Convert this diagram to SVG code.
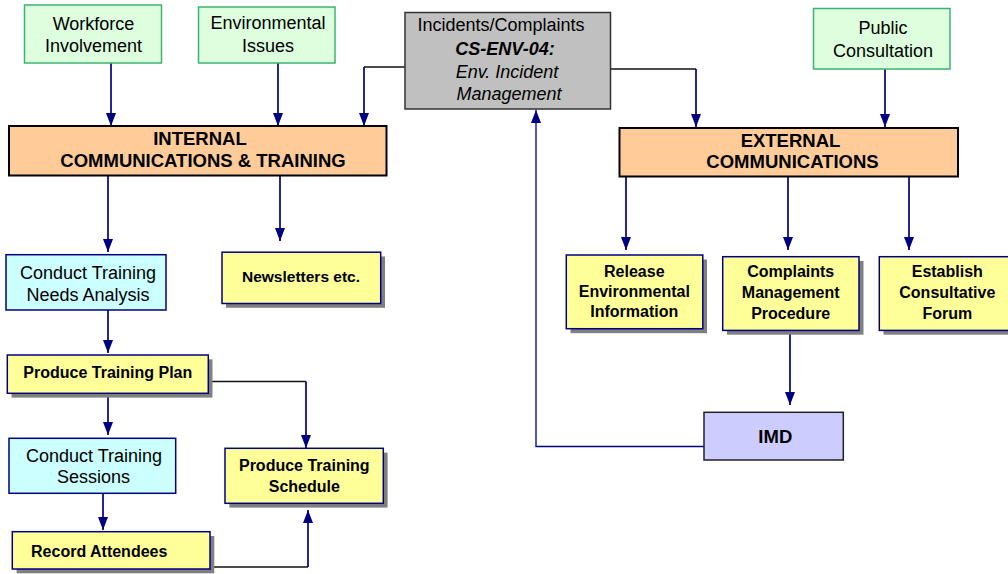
<svg xmlns="http://www.w3.org/2000/svg" width="1008" height="574" viewBox="0 0 1008 574">
<style>
text{font-family:"Liberation Sans",Arial,sans-serif;fill:#000;text-anchor:middle}
.r{font-size:18px}
.b{font-size:16px;font-weight:bold}
.bo{font-size:18.5px;font-weight:bold}
.green{fill:#ddffdd;stroke:#3cb371;stroke-width:1.5}
.cyan{fill:#ccffff;stroke:#000080;stroke-width:1.5}
.yel{fill:#ffff99;stroke:#000080;stroke-width:1.5}
.org{fill:#ffcc99;stroke:#000;stroke-width:2}
.gray{fill:#c0c0c0;stroke:#333;stroke-width:1.5}
.imd{fill:#ccccff;stroke:#222;stroke-width:1.5}
.sh{fill:#808080}
.nv{fill:none;stroke:#000080;stroke-width:1.7}
.dk{fill:none;stroke:#111;stroke-width:1.3}
</style>
<defs>
<marker id="arr" viewBox="0 0 13 10" refX="13" refY="5" markerWidth="13" markerHeight="10" orient="auto" markerUnits="userSpaceOnUse">
<path d="M0,0 L13,5 L0,10 Z" fill="#000080"/>
</marker>
</defs>

<g id="connectors">
<path class="nv" d="M111,63 V126" marker-end="url(#arr)"/>
<path class="nv" d="M278,63 V126" marker-end="url(#arr)"/>
<path class="dk" d="M405,67 H364"/>
<path class="nv" d="M364,67 V126" marker-end="url(#arr)"/>
<path class="dk" d="M611,69 H696"/>
<path class="nv" d="M696,69 V127" marker-end="url(#arr)"/>
<path class="nv" d="M885,69 V127" marker-end="url(#arr)"/>
<path class="nv" d="M108,176 V252" marker-end="url(#arr)"/>
<path class="nv" d="M280,176 V241" marker-end="url(#arr)"/>
<path class="nv" d="M626,177 V250" marker-end="url(#arr)"/>
<path class="nv" d="M788,177 V250" marker-end="url(#arr)"/>
<path class="nv" d="M909,177 V250" marker-end="url(#arr)"/>
<path class="nv" d="M108,310 V353" marker-end="url(#arr)"/>
<path class="nv" d="M108,393 V435" marker-end="url(#arr)"/>
<path class="dk" d="M208,381.5 H306"/>
<path class="nv" d="M306,381.5 V448" marker-end="url(#arr)"/>
<path class="nv" d="M103,493 V530" marker-end="url(#arr)"/>
<path class="dk" d="M210,567 H308"/>
<path class="nv" d="M308,567 V510" marker-end="url(#arr)"/>
<path class="nv" d="M790,330 V405" marker-end="url(#arr)"/>
<path class="nv" d="M704,446.5 H536 V110" marker-end="url(#arr)" style="stroke-width:1.3"/>
</g>

<g id="workforce">
<rect class="green" x="24.5" y="5" width="137" height="58"/>
<text class="r" x="93.5" y="30">Workforce</text>
<text class="r" x="93.5" y="52.3">Involvement</text>
</g>
<g id="environmental">
<rect class="green" x="198.5" y="7" width="136.5" height="56"/>
<text class="r" x="268" y="29.3">Environmental</text>
<text class="r" x="268" y="52.3">Issues</text>
</g>
<g id="incidents">
<rect class="gray" x="405" y="12.5" width="205.5" height="96.5"/>
<text class="r" x="501" y="30.7">Incidents/Complaints</text>
<text class="r" x="505" y="55" style="font-weight:bold;font-style:italic">CS-ENV-04:</text>
<text class="r" x="507" y="78.3" style="font-style:italic">Env. Incident</text>
<text class="r" x="509" y="100" style="font-style:italic">Management</text>
</g>
<g id="public">
<rect class="green" x="813.5" y="8.5" width="136.5" height="60.5"/>
<text class="r" x="883" y="34.3">Public</text>
<text class="r" x="883" y="56.7">Consultation</text>
</g>
<g id="internal">
<rect class="org" x="9" y="126" width="377.5" height="49.5"/>
<text class="bo" x="200" y="145">INTERNAL</text>
<text class="bo" x="203" y="166.7">COMMUNICATIONS &amp; TRAINING</text>
</g>
<g id="external">
<rect class="org" x="619.5" y="128" width="338.5" height="48.5"/>
<text class="bo" x="790.5" y="146.7">EXTERNAL</text>
<text class="bo" x="792.5" y="168.3">COMMUNICATIONS</text>
</g>
<g id="needs">
<rect class="cyan" x="6" y="254.7" width="160" height="55.3"/>
<text class="r" x="88" y="279.3">Conduct Training</text>
<text class="r" x="88" y="300.7">Needs Analysis</text>
</g>
<g id="newsletters">
<rect class="sh" x="226" y="256.5" width="159" height="51.3"/>
<rect class="yel" x="222" y="252.2" width="158.7" height="51.3"/>
<text x="301" y="282.3" style="font-size:15.5px;font-weight:bold">Newsletters etc.</text>
</g>
<g id="release">
<rect class="sh" x="570.5" y="259.5" width="136.5" height="73.7"/>
<rect class="yel" x="566.3" y="255" width="136.5" height="73.7"/>
<text class="b" x="634.3" y="276.7">Release</text>
<text class="b" x="634.3" y="297">Environmental</text>
<text class="b" x="634.3" y="317.3">Information</text>
</g>
<g id="complaints">
<rect class="sh" x="727" y="261" width="136.5" height="73.7"/>
<rect class="yel" x="722.7" y="256.7" width="136.3" height="73.7"/>
<text class="b" x="790.7" y="277.3">Complaints</text>
<text class="b" x="790.7" y="298.3">Management</text>
<text class="b" x="790.7" y="319">Procedure</text>
</g>
<g id="establish">
<rect class="sh" x="883.5" y="261" width="136.5" height="73.7"/>
<rect class="yel" x="879.3" y="256.7" width="136.5" height="73.7"/>
<text class="b" x="947.3" y="277.3">Establish</text>
<text class="b" x="947.3" y="298.3">Consultative</text>
<text class="b" x="947.3" y="319">Forum</text>
</g>
<g id="plan">
<rect class="sh" x="11.5" y="359.3" width="201" height="38.3"/>
<rect class="yel" x="7.3" y="355" width="201" height="38.3"/>
<text class="b" x="107.8" y="378.3">Produce Training Plan</text>
</g>
<g id="sessions">
<rect class="cyan" x="9" y="438.3" width="166.7" height="55"/>
<text class="r" x="94" y="461.7">Conduct Training</text>
<text class="r" x="93.5" y="483.3">Sessions</text>
</g>
<g id="schedule">
<rect class="sh" x="229.3" y="452.6" width="158.3" height="55"/>
<rect class="yel" x="225" y="448.3" width="158.3" height="55"/>
<text class="b" x="304.3" y="470.7">Produce Training</text>
<text class="b" x="304.3" y="491.7">Schedule</text>
</g>
<g id="record">
<rect class="sh" x="16.6" y="536" width="197.7" height="37.3"/>
<rect class="yel" x="12.3" y="531.7" width="197.7" height="37.3"/>
<text class="b" x="99.2" y="556.7">Record Attendees</text>
</g>
<g id="imd">
<rect class="imd" x="704" y="412.3" width="139.3" height="47.7"/>
<text class="bo" x="775.3" y="442.7">IMD</text>
</g>
</svg>
